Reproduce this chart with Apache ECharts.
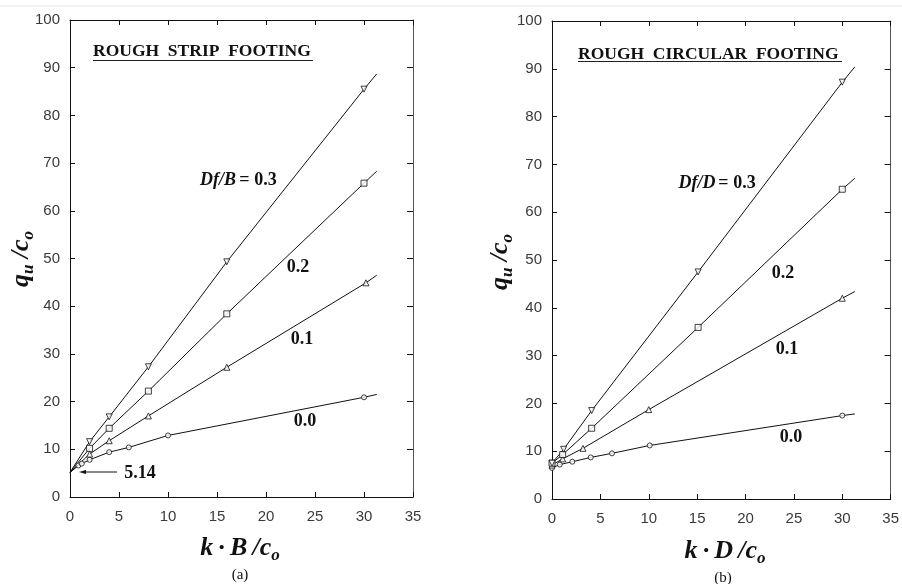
<!DOCTYPE html>
<html>
<head>
<meta charset="utf-8">
<script src="https://cdn.jsdelivr.net/npm/echarts@6/dist/echarts.min.js"></script>
<style>html,body{margin:0;padding:0;background:#fff;}#c{width:902px;height:584px;}</style>
</head>
<body>
<div id="c"></div>
<script>
// ---------- data ----------
// (a) Rough strip footing : x = k·B/co, y = qu/co
const stripStart = 5.14;            // common intercept at k·B/co = 0
const stripEndX = 31.3;             // where the fitted curves stop
const stripX_00 = [0.85, 1.2, 2, 4, 6, 10, 30];
const stripY_00 = [6.6, 7.0, 7.8, 9.4, 10.4, 12.9, 20.9];
const stripX_01 = [2, 4, 8, 16, 30.2];
const stripY_01 = [9.0, 11.8, 17.0, 27.2, 44.9];
const stripX_02 = [2, 4, 8, 16, 30];
const stripY_02 = [10.2, 14.4, 22.2, 38.4, 65.8];
const stripX_03 = [2, 4, 8, 16, 30];
const stripY_03 = [11.6, 16.8, 27.3, 49.3, 85.5];
const stripEndY = [21.5, 46.5, 68.3, 88.7];   // curve ends for 0.0, 0.1, 0.2, 0.3

// (b) Rough circular footing : x = k·D/co, y = qu/co
const circEndX = 31.3;
const circX_00 = [0, 0.8, 2.1, 4, 6.2, 10.1, 30];
const circY_00 = [6.5, 7.2, 7.8, 8.7, 9.55, 11.2, 17.45];
const circX_01 = [0, 1.1, 3.2, 10, 30];
const circY_01 = [7.1, 8.4, 10.6, 18.7, 42.0];
const circX_02 = [0, 1.1, 4.1, 15.1, 30];
const circY_02 = [7.5, 9.3, 14.8, 35.9, 64.8];
const circX_03 = [0, 1.2, 4.1, 15.1, 30];
const circY_03 = [7.5, 10.4, 18.5, 47.5, 87.2];
const circEndY = [17.8, 43.4, 67.1, 90.4];

// axes
const xMin = 0, xMax = 35, xStep = 5;
const yMin = 0, yMax = 100, yStep = 10;

// ---------- build ----------
const zip = (xs, ys) => xs.map((x, i) => [x, ys[i]]);
const symbolsBySeries = ['circle', 'triangle', 'rect', 'triangle'];
const rotBySeries = [0, 0, 0, 180];

function curveSeries(idx, xs, ys, startY, endX, endY, gi) {
  const pts = zip(xs, ys);
  let line = pts.slice();
  if (startY !== null) line = [[0, startY]].concat(line);
  line.push([endX, endY]);
  return [
    {
      type: 'line', xAxisIndex: gi * 2, yAxisIndex: gi * 2, data: line,
      showSymbol: false, symbol: 'none', smooth: false,
      lineStyle: { color: '#111', width: 1 }, silent: true, z: 2, animation: false
    },
    {
      type: 'scatter', xAxisIndex: gi * 2, yAxisIndex: gi * 2, data: pts,
      symbol: symbolsBySeries[idx], symbolRotate: rotBySeries[idx],
      symbolSize: idx === 0 ? 5 : 6,
      itemStyle: { color: '#fff', borderColor: '#111', borderWidth: 1 },
      z: 3, animation: false, silent: true
    }
  ];
}

const tickLabel = { color: '#3a3a3a', fontSize: 15, fontFamily: '"Liberation Sans", Arial, sans-serif' };
const axLine = { show: true, onZero: false, lineStyle: { color: '#111', width: 1 } };
const tick = (len) => ({ show: true, inside: true, length: len, lineStyle: { color: '#111', width: 1 } });

function xAxes(gi) {
  return [
    { type: 'value', gridIndex: gi, position: 'bottom', min: xMin, max: xMax, interval: xStep,
      axisLine: axLine, axisTick: tick(5),
      axisLabel: Object.assign({ margin: 12 }, tickLabel), splitLine: { show: false } },
    { type: 'value', gridIndex: gi, position: 'top', min: xMin, max: xMax, interval: xStep,
      axisLine: axLine, axisTick: tick(5),
      axisLabel: { show: false }, splitLine: { show: false } }
  ];
}
function yAxes(gi) {
  return [
    { type: 'value', gridIndex: gi, position: 'left', min: yMin, max: yMax, interval: yStep,
      axisLine: axLine, axisTick: tick(5),
      axisLabel: Object.assign({ margin: 10 }, tickLabel), splitLine: { show: false } },
    { type: 'value', gridIndex: gi, position: 'right', min: yMin, max: yMax, interval: yStep,
      axisLine: { show: true, onZero: false, lineStyle: { color: '#555', width: 1 } },
      axisTick: tick(6),
      axisLabel: { show: false }, splitLine: { show: false } }
  ];
}

const series = [].concat(
  curveSeries(0, stripX_00, stripY_00, stripStart, stripEndX, stripEndY[0], 0),
  curveSeries(1, stripX_01, stripY_01, stripStart, stripEndX, stripEndY[1], 0),
  curveSeries(2, stripX_02, stripY_02, stripStart, stripEndX, stripEndY[2], 0),
  curveSeries(3, stripX_03, stripY_03, stripStart, stripEndX, stripEndY[3], 0),
  curveSeries(0, circX_00, circY_00, null, circEndX, circEndY[0], 1),
  curveSeries(1, circX_01, circY_01, null, circEndX, circEndY[1], 1),
  curveSeries(2, circX_02, circY_02, null, circEndX, circEndY[2], 1),
  curveSeries(3, circX_03, circY_03, null, circEndX, circEndY[3], 1)
);

const serif = '"Liberation Serif", "Times New Roman", serif';
const bigRich = {
  m: { fontFamily: serif, fontWeight: 'bold', fontStyle: 'italic', fontSize: 26, lineHeight: 32, fill: '#111', color: '#111' },
  s: { fontFamily: serif, fontWeight: 'bold', fontStyle: 'italic', fontSize: 17, lineHeight: 17, verticalAlign: 'bottom', fill: '#111', color: '#111' }
};
function txt(text, x, y, font, align) {
  const a = align || 'center';
  return {
    type: 'text', x: x, y: y, silent: true, z: 10,
    style: { text: text, font: font, fill: '#111', textAlign: a, align: a, textVerticalAlign: 'middle', verticalAlign: 'middle' }
  };
}
function richTxt(text, x, y, rotation) {
  return {
    type: 'text', x: x, y: y, rotation: rotation || 0, silent: true, z: 10,
    style: { text: text, rich: bigRich, fill: '#111', textAlign: 'center', textVerticalAlign: 'middle', align: 'center', verticalAlign: 'middle' }
  };
}
const titleFont = 'bold 17.5px ' + serif;
const lblFont = 'bold 18px ' + serif;
const lblItal = 'italic bold 18px ' + serif;

const graphic = [
  { type: 'line', shape: { x1: 0, y1: 6, x2: 902, y2: 6 }, style: { stroke: '#e6e6e6', lineWidth: 1 }, silent: true },
  // titles
  txt('ROUGH  STRIP  FOOTING', 93, 51, titleFont, 'left'),
  { type: 'line', shape: { x1: 93, y1: 60.5, x2: 313, y2: 60.5 }, style: { stroke: '#222', lineWidth: 1 }, silent: true },
  txt('ROUGH  CIRCULAR  FOOTING', 578, 54, titleFont, 'left'),
  { type: 'line', shape: { x1: 578, y1: 61.5, x2: 842, y2: 61.5 }, style: { stroke: '#222', lineWidth: 1 }, silent: true },
  // curve labels (a)
  txt('Df/B', 218, 180, lblItal),
  txt('= 0.3', 258, 180, lblFont),
  txt('0.2', 298, 267, lblFont),
  txt('0.1', 302, 339, lblFont),
  txt('0.0', 305, 421, lblFont),
  txt('5.14', 140, 473, lblFont),
  { type: 'line', shape: { x1: 84, y1: 472, x2: 117, y2: 472 }, style: { stroke: '#111', lineWidth: 1 }, silent: true },
  { type: 'polygon', shape: { points: [[79, 472], [86, 470], [86, 474]] }, style: { fill: '#111' }, silent: true },
  // curve labels (b)
  txt('Df/D', 697, 183, lblItal),
  txt('= 0.3', 737, 183, lblFont),
  txt('0.2', 783, 273, lblFont),
  txt('0.1', 787, 349, lblFont),
  txt('0.0', 791, 437, lblFont),
  // axis names
  richTxt('{m|q}{s|u}{m| /c}{s|o}', 21, 259, Math.PI / 2),
  richTxt('{m|q}{s|u}{m| /c}{s|o}', 500, 262, Math.PI / 2),
  richTxt('{m|k\u2009·\u2009B\u2009/c}{s|o}', 240, 548, 0),
  richTxt('{m|k\u2009·\u2009D\u2009/c}{s|o}', 725, 551, 0),
  txt('(a)', 240, 575, '15px ' + serif),
  txt('(b)', 723, 578, '15px ' + serif)
];

const chart = echarts.init(document.getElementById('c'), null, { renderer: 'canvas' });
chart.setOption({
  animation: false,
  backgroundColor: '#fff',
  grid: [
    { left: 70, top: 20, width: 343, height: 477 },
    { left: 552, top: 21, width: 343, height: 478 }
  ],
  xAxis: xAxes(0).concat(xAxes(1)),
  yAxis: yAxes(0).concat(yAxes(1)),
  series: series,
  graphic: graphic
});
</script>
</body>
</html>
